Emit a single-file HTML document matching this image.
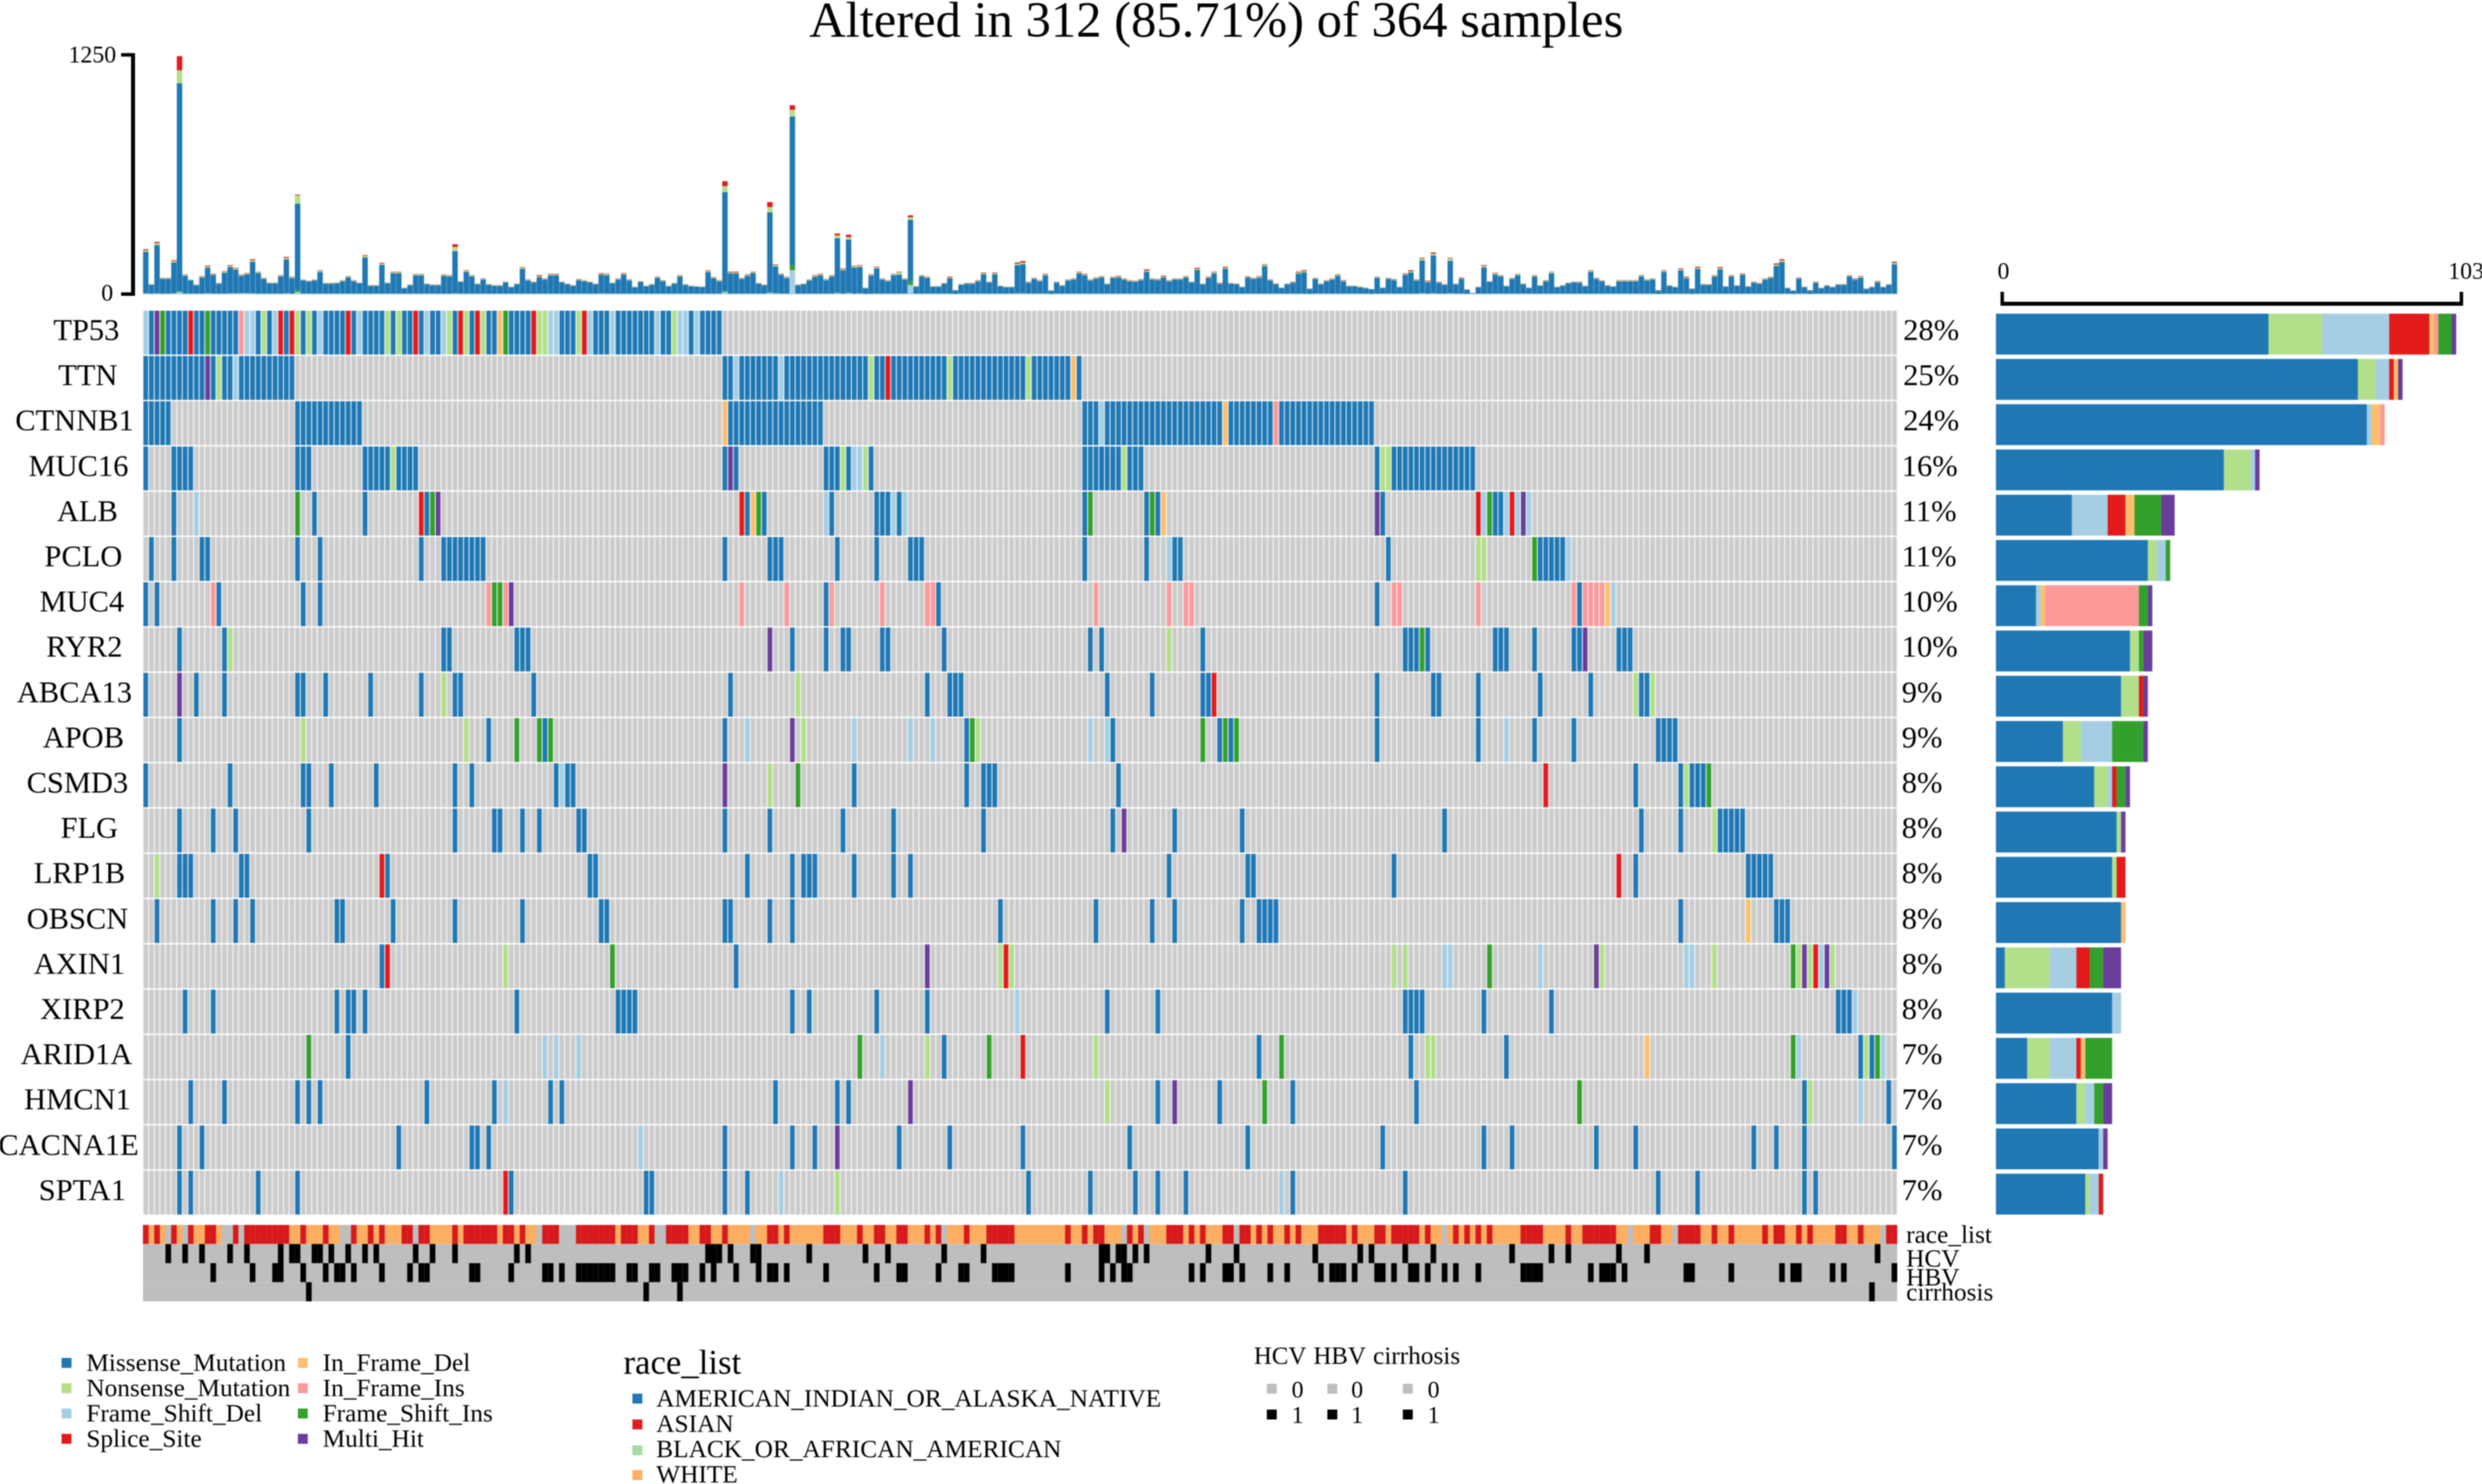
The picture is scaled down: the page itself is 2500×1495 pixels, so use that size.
<!DOCTYPE html>
<html><head><meta charset="utf-8"><title>Oncoplot</title>
<style>
html,body{margin:0;padding:0;background:#fff;}
svg{display:block;filter:blur(0.5px);}
text{font-family:"Liberation Serif",serif;fill:#000;}
.g{font-size:30.7px;text-anchor:middle;}
.p{font-size:30.8px;}
.l{font-size:25.5px;}
.a{font-size:24px;}
.t{font-size:25.5px;}
</style></head>
<body>
<svg id="plot" xmlns="http://www.w3.org/2000/svg" width="2500" height="1495" viewBox="0 0 2500 1495">
<rect x="0" y="0" width="2500" height="1495" fill="#fff"/>
<text x="1225" y="37" font-size="51" text-anchor="middle">Altered in 312 (85.71%) of 364 samples</text>

<g>
<rect x="132" y="53.5" width="4" height="244.5" fill="#000"/>
<rect x="122" y="53.5" width="13" height="3.5" fill="#000"/>
<rect x="122" y="294.5" width="13" height="3.5" fill="#000"/>
<text class="a" x="69" y="63">1250</text>
<text class="a" x="102" y="303">0</text>
</g>
<g id="tmb"></g>
<g id="matrix"></g>
<g id="clin"></g>
<g id="rbars"></g>

<g>
<text class="g" x="87" y="342.5">TP53</text>
<text class="g" x="88.5" y="388.1">TTN</text>
<text class="g" x="75" y="433.7">CTNNB1</text>
<text class="g" x="79" y="479.3">MUC16</text>
<text class="g" x="88" y="524.9">ALB</text>
<text class="g" x="84" y="570.5">PCLO</text>
<text class="g" x="82.5" y="616.1">MUC4</text>
<text class="g" x="85" y="661.7">RYR2</text>
<text class="g" x="75" y="707.3">ABCA13</text>
<text class="g" x="84" y="752.9">APOB</text>
<text class="g" x="78" y="798.5">CSMD3</text>
<text class="g" x="90" y="844.1">FLG</text>
<text class="g" x="80" y="889.7">LRP1B</text>
<text class="g" x="78" y="935.3">OBSCN</text>
<text class="g" x="80" y="980.9">AXIN1</text>
<text class="g" x="83" y="1026.5">XIRP2</text>
<text class="g" x="77" y="1072.1">ARID1A</text>
<text class="g" x="78" y="1117.7">HMCN1</text>
<text class="g" x="69" y="1163.3">CACNA1E</text>
<text class="g" x="83" y="1208.9">SPTA1</text>
</g>

<g>
<text class="p" x="1917" y="342.5">28%</text>
<text class="p" x="1917" y="388.1">25%</text>
<text class="p" x="1917" y="433.7">24%</text>
<text class="p" x="1915.5" y="479.3">16%</text>
<text class="p" x="1915.5" y="524.9">11%</text>
<text class="p" x="1915.5" y="570.5">11%</text>
<text class="p" x="1915.5" y="616.1">10%</text>
<text class="p" x="1915.5" y="661.7">10%</text>
<text class="p" x="1915.5" y="707.3">9%</text>
<text class="p" x="1915.5" y="752.9">9%</text>
<text class="p" x="1915.5" y="798.5">8%</text>
<text class="p" x="1915.5" y="844.1">8%</text>
<text class="p" x="1915.5" y="889.7">8%</text>
<text class="p" x="1915.5" y="935.3">8%</text>
<text class="p" x="1915.5" y="980.9">8%</text>
<text class="p" x="1915.5" y="1026.5">8%</text>
<text class="p" x="1915.5" y="1072.1">7%</text>
<text class="p" x="1915.5" y="1117.7">7%</text>
<text class="p" x="1915.5" y="1163.3">7%</text>
<text class="p" x="1915.5" y="1208.9">7%</text>
</g>

<g>
<rect x="2015" y="304" width="466" height="4" fill="#000"/>
<rect x="2015" y="294" width="3.5" height="14" fill="#000"/>
<rect x="2477.5" y="294" width="3.5" height="14" fill="#000"/>
<text class="a" x="2012" y="281">0</text>
<text class="a" x="2466" y="281">103</text>
</g>

<g>
<text class="t" x="1920" y="1252">race_list</text>
<text class="t" x="1920" y="1276">HCV</text>
<text class="t" x="1920" y="1295">HBV</text>
<text class="t" x="1920" y="1310">cirrhosis</text>
</g>

<g>
<rect x="62" y="1368" width="10" height="10" fill="#1F78B4"/>
<text class="l" x="87" y="1381">Missense_Mutation</text>
<rect x="62" y="1393.5" width="10" height="10" fill="#B2DF8A"/>
<text class="l" x="87" y="1406.5">Nonsense_Mutation</text>
<rect x="62" y="1419" width="10" height="10" fill="#A6CEE3"/>
<text class="l" x="87" y="1432">Frame_Shift_Del</text>
<rect x="62" y="1444.5" width="10" height="10" fill="#E31A1C"/>
<text class="l" x="87" y="1457.5">Splice_Site</text>
<rect x="300" y="1368" width="10" height="10" fill="#FDBF6F"/>
<text class="l" x="325" y="1381">In_Frame_Del</text>
<rect x="300" y="1393.5" width="10" height="10" fill="#FB9A99"/>
<text class="l" x="325" y="1406.5">In_Frame_Ins</text>
<rect x="300" y="1419" width="10" height="10" fill="#33A02C"/>
<text class="l" x="325" y="1432">Frame_Shift_Ins</text>
<rect x="300" y="1444.5" width="10" height="10" fill="#6A3D9A"/>
<text class="l" x="325" y="1457.5">Multi_Hit</text>
</g>

<g>
<text x="628" y="1384" font-size="35">race_list</text>
<rect x="637" y="1404" width="10" height="10" fill="#1F78B4"/>
<text class="l" x="661" y="1417">AMERICAN_INDIAN_OR_ALASKA_NATIVE</text>
<rect x="637" y="1430" width="10" height="10" fill="#E31A1C"/>
<text class="l" x="661" y="1442.5">ASIAN</text>
<rect x="637" y="1456" width="10" height="10" fill="#A6DBA0"/>
<text class="l" x="661" y="1468">BLACK_OR_AFRICAN_AMERICAN</text>
<rect x="637" y="1481" width="10" height="10" fill="#FDAE61"/>
<text class="l" x="661" y="1493.5">WHITE</text>
</g>

<g>
<text x="1263" y="1374" font-size="25">HCV</text>
<text x="1323" y="1374" font-size="25">HBV</text>
<text x="1383" y="1374" font-size="25.5">cirrhosis</text>
<rect x="1276" y="1394" width="10" height="10" fill="#BEBEBE"/>
<rect x="1276" y="1420" width="10" height="10" fill="#000"/>
<rect x="1337" y="1394" width="10" height="10" fill="#BEBEBE"/>
<rect x="1337" y="1420" width="10" height="10" fill="#000"/>
<rect x="1413" y="1394" width="10" height="10" fill="#BEBEBE"/>
<rect x="1413" y="1420" width="10" height="10" fill="#000"/>
<text class="a" x="1301" y="1408">0</text>
<text class="a" x="1301" y="1433.5">1</text>
<text class="a" x="1361" y="1408">0</text>
<text class="a" x="1361" y="1433.5">1</text>
<text class="a" x="1438" y="1408">0</text>
<text class="a" x="1438" y="1433.5">1</text>
</g>
</svg>

<script>
/* ---------- data ---------- */
const genes = ["TP53","TTN","CTNNB1","MUC16","ALB","PCLO","MUC4","RYR2","ABCA13","APOB","CSMD3","FLG","LRP1B","OBSCN","AXIN1","XIRP2","ARID1A","HMCN1","CACNA1E","SPTA1"];
const sampleCount = 312;
const tmbTicks = [0,1250];
const geneBarTicks = [0,103];

/* per-gene mutated sample columns: M missense, N nonsense, L frame-shift del, S splice, D in-frame del, I in-frame ins, G frame-shift ins, H multi-hit */
const mutTP53 = {M:[1,4,5,6,7,9,10,12,13,14,15,16,20,22,25,28,30,32,33,34,35,37,39,40,41,42,44,46,47,49,51,52,55,58,61,62,65,66,67,68,74,75,76,80,81,82,84,85,86,87,88,89,90,92,93,97,99,100,101,102],N:[21,27,29,43,45,54,57,60,70,71,77,94],L:[0,18,19,23,31,38,50,53,72,73,79,83,91,95,96,98],S:[8,24,26,36,48,56,59,69,78],D:[63],I:[17],G:[3,11,64],H:[2]};
const mutTTN = {M:[0,1,2,3,4,5,6,7,8,9,10,12,14,15,17,18,19,20,21,22,23,24,25,26,103,104,106,107,108,109,110,111,112,114,115,116,117,118,119,120,121,122,123,124,125,126,127,128,130,131,133,134,135,136,137,138,139,140,141,142,144,145,146,147,148,149,150,151,152,153,154,155,156,158,159,160,161,162,163,164,166],N:[13,129,143,157],L:[16,105,113],S:[132],D:[165],H:[11]};
const mutCTNNB1 = {M:[0,1,2,3,4,27,28,29,30,31,32,33,34,35,36,37,38,104,105,106,107,108,109,110,111,112,113,114,115,116,117,118,119,120,167,168,169,171,172,173,174,175,176,177,178,179,180,181,182,183,184,185,186,187,188,189,190,191,193,194,195,196,197,198,199,200,202,203,204,205,206,207,208,209,210,211,212,213,214,215,216,217,218],L:[170],D:[103,192],I:[201]};
const mutMUC16 = {M:[0,5,6,7,8,27,28,29,39,40,41,42,43,45,46,47,48,103,105,121,122,123,125,129,167,168,169,170,171,172,173,175,176,177,219,222,223,224,225,226,227,228,229,230,231,232,233,234,235,236],N:[44,124,128,174,220,221],L:[126,127],H:[104]};
const mutALB = {M:[5,30,39,50,107,110,122,130,131,132,134,167,178,180,220,240,241],L:[9,121,133,135,238,242,244,246],S:[49,106,237,243],D:[108,181],G:[27,51,109,168,179,239],H:[52,219,245]};
const mutPCLO = {M:[1,5,10,11,27,31,49,53,54,55,56,57,58,59,60,103,111,112,113,123,130,136,137,138,167,178,183,184,221,248,249,250,251,252],N:[237,238],L:[182,253],G:[247]};
const mutMUC4 = {M:[0,2,13,28,31,121,141,219,255],L:[261],D:[260],I:[12,61,64,106,114,122,131,139,140,169,182,185,186,222,223,237,254,256,257,258,259],G:[62,63],H:[65]};
const mutRYR2 = {M:[6,14,53,54,66,67,68,115,121,124,125,131,132,142,168,170,188,224,225,226,228,240,241,242,247,254,255,262,263,264],N:[15,182],G:[227],H:[111,256]};
const mutABCA13 = {M:[0,9,14,27,28,32,40,49,55,56,69,104,139,143,144,145,171,179,188,189,219,229,230,237,248,257,266,267],N:[53,116,265,268],S:[190],H:[6]};
const mutAPOB = {M:[6,61,71,103,146,172,191,193,219,237,247,254,269,270,271,272],N:[28,57,117,148],L:[107,126,136,140,168,171,242],G:[66,70,72,147,188,192,194],H:[115]};
const mutCSMD3 = {M:[0,15,28,29,33,41,55,58,73,75,76,126,146,149,150,151,173,265,273,275,276,277],N:[111,274],L:[74],S:[249],G:[116,278],H:[103]};
const mutFLG = {M:[6,12,16,29,55,62,63,67,70,77,78,103,111,124,133,149,172,183,195,231,266,273,280,281,282,283,284],N:[279],H:[174]};
const mutLRP1B = {M:[6,7,8,17,18,43,79,80,107,115,117,118,119,126,133,136,182,196,197,222,265,285,286,287,288,289],N:[2],S:[42,262]};
const mutOBSCN = {M:[2,12,16,19,34,35,44,55,67,81,82,103,104,111,115,152,169,179,183,195,198,199,200,201,273,290,291,292],D:[285]};
const mutAXIN1 = {M:[42,105],N:[64,152,154,222,224,259,279,294,296,300],L:[231,232,248,274,275,298],S:[43,153,297],G:[83,239,293],H:[139,258,295,299]};
const mutXIRP2 = {M:[7,12,34,36,37,39,66,84,85,86,87,115,118,130,139,171,180,224,225,226,227,238,250,301,302,303],L:[155,304]};
const mutARID1A = {M:[36,142,198,225,242,305,307],N:[139,169,228,229,306],L:[71,73,77,131,294,309],S:[156],D:[267],G:[29,127,150,202,293,308]};
const mutHMCN1 = {M:[8,14,27,29,31,50,62,72,74,112,123,125,180,191,204,226,295,310],N:[171,296],L:[64,305],G:[199,255],H:[136,183]};
const mutCACNA1E = {M:[6,10,45,58,59,61,103,115,119,134,143,156,175,196,220,238,243,258,265,286,290,295,311],L:[88],H:[123]};
const mutSPTA1 = {M:[6,8,20,27,65,89,90,103,107,157,168,176,180,185,204,224,269,276,295,297],N:[123],L:[113,202],S:[64]};

/* top bar: mutations per sample */
const tmbTotal = [
235,54,273,86,86,178,1242,104,78,52,
95,149,109,60,121,152,138,104,112,183,
118,86,62,62,100,195,92,520,78,71,
78,125,60,60,62,74,95,74,62,204,
48,48,164,62,118,118,35,52,106,106,
57,52,52,104,100,261,69,126,100,57,
83,54,48,48,66,40,57,142,78,66,
100,83,107,107,66,57,48,80,74,66,
57,111,107,62,83,111,78,40,69,45,
54,93,74,45,60,100,54,45,43,41,
125,90,74,590,118,118,86,104,118,60,
52,481,156,109,92,986,52,57,78,100,
107,80,100,317,135,311,149,152,35,105,
144,83,74,107,118,83,412,43,100,92,
43,43,60,92,22,54,60,60,74,114,
66,114,45,40,40,166,173,66,86,74,
107,21,66,48,78,83,118,107,78,88,
95,57,92,97,83,74,71,80,130,83,
80,97,74,83,83,95,66,138,57,92,
118,60,144,60,57,40,95,86,95,157,
78,57,36,57,66,118,126,31,86,57,
74,83,104,74,45,45,40,35,28,92,
36,86,80,40,109,126,78,190,71,218,
66,54,190,57,88,26,8,40,152,69,
112,100,45,86,107,57,36,100,48,74,
118,40,48,62,66,66,45,126,86,73,
48,43,74,74,74,74,100,78,83,22,
126,48,40,135,92,31,144,54,54,100,
142,43,100,48,109,43,66,60,83,92,
161,183,35,21,88,40,22,66,35,48,
40,54,54,100,83,95,31,40,69,40,
54,170];
const tmbNonsense = [
8,3,10,3,3,8,67,5,4,3,
4,6,5,3,6,6,6,5,5,8,
5,4,3,3,5,8,5,43,4,3,
4,6,3,3,3,4,5,4,3,8,
3,3,7,3,5,5,2,3,5,5,
3,3,3,5,5,22,3,6,5,3,
4,3,3,3,3,2,3,6,4,3,
5,4,5,5,3,3,3,4,4,3,
3,5,5,3,4,5,4,2,3,2,
3,5,4,2,3,5,3,2,2,2,
6,4,4,31,5,5,4,5,5,3,
3,28,7,5,5,35,3,3,4,5,
5,4,5,14,6,14,6,7,2,5,
6,4,4,5,12,4,14,2,5,4,
2,2,3,4,1,3,3,3,4,6,
3,6,2,2,2,8,8,3,4,4,
5,1,3,3,4,4,6,5,4,4,
5,3,4,5,4,4,3,4,6,4,
4,5,4,4,4,5,3,6,3,4,
6,3,6,3,3,2,5,4,5,7,
4,3,2,3,3,6,6,2,4,3,
4,4,5,4,2,2,2,2,1,4,
2,4,4,2,5,6,4,9,4,10,
3,3,12,3,4,1,1,2,7,3,
6,5,2,4,5,3,2,5,3,4,
6,2,3,3,3,3,2,6,4,3,
3,2,4,4,4,4,5,4,4,1,
6,3,2,6,4,2,6,3,3,5,
6,2,5,3,5,2,3,3,4,4,
7,8,2,1,4,2,1,3,2,3,
2,3,3,5,4,5,2,2,3,2,
3,7];
const tmbSplice = [
5,1,6,2,2,4,74,2,1,1,
2,4,2,1,2,4,3,2,2,5,
2,2,1,1,2,5,2,4,1,1,
1,3,1,1,1,1,2,2,1,4,
1,1,4,1,3,3,1,1,2,2,
1,1,1,2,2,14,1,3,2,1,
2,1,1,1,1,1,1,3,2,1,
5,2,3,3,1,1,1,2,1,1,
1,3,3,1,2,3,2,1,1,1,
1,2,1,1,1,2,1,1,1,1,
3,2,2,26,4,4,2,3,2,1,
1,26,3,2,2,24,1,1,2,3,
3,2,2,10,3,12,3,3,1,2,
3,2,2,2,3,2,10,1,2,2,
1,1,1,4,1,1,1,2,2,3,
1,3,1,1,1,6,8,2,2,2,
3,1,2,1,2,2,3,3,2,2,
2,1,2,3,2,2,2,2,6,2,
2,4,2,2,2,2,1,5,1,3,
3,3,4,1,1,1,2,2,3,3,
2,2,1,1,2,4,5,1,2,1,
2,2,3,3,1,1,1,1,1,2,
1,2,2,1,3,6,2,4,4,6,
2,1,3,1,3,1,0,1,4,1,
3,2,1,2,2,1,1,2,1,2,
2,1,1,1,1,2,1,3,2,2,
1,1,2,2,2,2,2,2,2,1,
3,1,1,4,4,1,5,2,1,2,
5,1,2,1,3,1,2,2,2,2,
6,6,1,1,2,1,1,2,1,1,
1,1,1,2,3,3,1,1,2,1,
1,6];
const tmbFrameDel = [
4,3,4,3,3,4,12,3,3,3,
3,4,3,3,3,4,4,5,5,4,
3,3,3,3,3,4,3,12,3,3,
3,3,3,3,3,3,3,3,3,3,
3,3,3,3,3,3,3,3,3,3,
3,3,3,3,3,4,3,3,3,3,
3,3,3,3,3,3,3,3,3,3,
3,3,3,3,3,3,3,3,3,3,
3,4,3,3,3,3,3,3,3,3,
3,3,3,3,3,3,3,3,3,3,
3,3,3,12,3,3,3,3,3,3,
3,8,4,3,3,126,3,3,3,3,
3,3,3,6,3,6,3,4,2,3,
3,3,3,3,3,3,48,3,3,3,
3,3,3,3,2,3,3,3,3,3,
3,3,3,3,3,4,4,3,3,3,
3,2,3,3,3,3,3,3,3,3,
3,3,3,3,3,3,3,3,3,3,
3,3,3,3,3,3,3,3,3,3,
3,3,3,3,3,3,3,3,3,3,
3,3,3,3,3,3,3,2,3,3,
3,3,3,3,3,3,3,3,2,3,
3,3,3,3,3,3,3,5,3,5,
3,3,5,3,3,2,3,3,3,3,
3,3,3,3,3,3,3,3,3,3,
3,3,3,3,3,3,3,3,3,3,
3,3,3,3,3,3,3,3,3,2,
3,3,3,3,3,2,3,3,3,3,
3,3,3,3,3,3,3,3,3,3,
3,3,3,2,3,3,2,3,3,3,
3,3,3,3,3,3,3,3,3,3,
3,3];
const tmbFrameIns = [
2,1,2,1,1,2,3,1,1,1,
1,2,1,1,1,2,2,1,1,2,
1,1,1,1,1,2,1,10,1,1,
1,1,1,1,1,1,1,1,1,2,
1,1,2,1,1,1,1,1,1,1,
1,1,1,1,1,2,1,1,1,1,
1,1,1,1,1,1,1,2,1,1,
1,1,1,1,1,1,1,1,1,1,
1,1,1,1,1,1,1,1,1,1,
1,1,1,1,1,1,1,1,1,1,
1,1,1,4,1,1,1,1,1,1,
1,3,2,1,1,26,1,1,1,1,
1,1,1,3,1,3,1,2,1,1,
1,1,1,1,1,1,20,1,1,1,
1,1,1,1,1,1,1,1,1,1,
1,1,1,1,1,2,2,1,1,1,
1,1,1,1,1,1,1,1,1,1,
1,1,1,1,1,1,1,1,2,1,
1,1,1,1,1,1,1,2,1,1,
1,1,2,1,1,1,1,1,1,2,
1,1,1,1,1,1,2,1,1,1,
1,1,1,1,1,1,1,1,1,1,
1,1,1,1,1,2,1,2,1,3,
1,1,3,1,1,1,1,1,2,1,
1,1,1,1,1,1,1,1,1,1,
1,1,1,1,1,1,1,2,1,1,
1,1,1,1,1,1,1,1,1,1,
2,1,1,2,1,1,2,1,1,1,
2,1,1,1,1,1,1,1,1,1,
2,2,1,1,1,1,1,1,1,1,
1,1,1,1,1,1,1,1,1,1,
1,2];

/* right bars: samples per gene, by type */
const barMissense = [61,81,83,51,17,34,9,30,28,15,22,27,26,28,2,26,7,18,23,20];
const barNonsense = [12,4,0,6,0,2,0,2,4,4,3,1,1,0,10,0,5,2,0,1];
const barFrameDel = [15,3,1,1,8,2,1,0,0,7,1,0,0,0,6,2,6,2,1,2];
const barSplice   = [9,1,0,0,4,0,0,0,1,0,1,0,2,0,3,0,1,0,0,1];
const barInDel    = [1,1,2,0,2,0,1,0,0,0,0,0,0,1,0,0,1,0,0,0];
const barInIns    = [1,0,1,0,0,0,21,0,0,0,0,0,0,0,0,0,0,0,0,0];
const barFrameIns = [3,0,0,0,6,1,2,1,0,7,2,0,0,0,3,0,6,2,0,0];
const barMultiHit = [1,1,0,1,3,0,1,2,1,1,1,1,0,0,4,0,0,2,1,0];

/* clinical tracks */
const raceAsian = [0,2,5,8,11,12,16,18,19,20,21,22,23,24,25,28,32,37,40,42,46,47,49,50,55,57,58,59,60,61,62,64,65,67,71,72,73,77,78,79,80,81,82,83,85,86,87,90,93,94,95,96,99,100,103,111,112,114,121,122,123,127,130,131,134,135,139,141,146,150,151,152,153,154,164,167,169,170,175,177,182,183,184,186,188,192,193,195,196,198,200,203,205,209,210,211,212,213,215,219,220,222,223,224,225,226,228,233,235,237,239,245,246,247,248,253,256,257,258,259,260,261,268,269,273,274,275,276,279,282,288,290,291,294,296,301,302,305,310,311];
const raceMissing = [4,7,14,15,17,35,36,48,70,74,75,76,91,92,108,142,174,178,194,231,264,272,309];
const hcvPositive = [4,7,10,15,18,24,26,27,30,31,33,36,39,41,48,51,55,66,68,100,101,102,104,108,109,118,128,132,142,149,170,171,173,174,176,178,189,194,208,216,218,224,229,243,250,253,262,267,308];
const hbvPositive = [12,19,23,24,28,32,34,35,37,42,47,49,50,58,59,65,71,72,74,77,78,79,80,81,82,83,86,87,90,91,94,95,96,99,101,105,109,111,112,114,121,130,134,135,141,145,146,151,152,153,154,164,170,172,174,175,186,188,192,193,195,200,203,209,211,212,213,215,219,220,222,225,226,228,231,233,237,245,246,247,248,257,259,260,261,263,274,275,282,291,293,294,300,302,311];
const cirrhosisPositive = [29,89,95,307];

const matrixRows = [mutTP53,mutTTN,mutCTNNB1,mutMUC16,mutALB,mutPCLO,mutMUC4,mutRYR2,mutABCA13,mutAPOB,mutCSMD3,mutFLG,mutLRP1B,mutOBSCN,mutAXIN1,mutXIRP2,mutARID1A,mutHMCN1,mutCACNA1E,mutSPTA1];
const barSeries = [barMissense,barNonsense,barFrameDel,barSplice,barInDel,barInIns,barFrameIns,barMultiHit];
const clinTracks = [hcvPositive,hbvPositive,cirrhosisPositive];

/* ---------- styles & scales ---------- */
const typeColors = {M:"#1F78B4",N:"#B2DF8A",L:"#A6CEE3",S:"#E31A1C",D:"#FDBF6F",I:"#FB9A99",G:"#33A02C",H:"#6A3D9A"};
const barColors = ["#1F78B4","#B2DF8A","#A6CEE3","#E31A1C","#FDBF6F","#FB9A99","#33A02C","#6A3D9A"];
const colW = (1911-144)/sampleCount;
function xCol(c){return 144+c*colW;}
function yRow(r){return 313+r*45.6;}
function xCount(n){return 2010.4+n*(2474-2010.4)/geneBarTicks[1];}
function yTmb(v){return 296.5-v*(296.5-55)/tmbTicks[1];}
const NS="http://www.w3.org/2000/svg";
function rect(parent,x,y,w,h,fill){
  const r=document.createElementNS(NS,"rect");
  r.setAttribute("x",x.toFixed(2));
  r.setAttribute("y",y.toFixed(2));
  r.setAttribute("width",Math.max(w,0).toFixed(2));
  r.setAttribute("height",Math.max(h,0).toFixed(2));
  r.setAttribute("fill",fill);
  parent.appendChild(r);
  return r;
}

/* top stacked bars */
const tmbG=document.getElementById("tmb");
for(let i=0;i<sampleCount;i++){
  const x=xCol(i)+0.1, w=colW-0.2;
  const fd=tmbFrameDel[i], fi=tmbFrameIns[i], n=tmbNonsense[i], s=tmbSplice[i];
  const m=Math.max(tmbTotal[i]-fd-fi-n-s,0);
  const parts=[[fd,"#A6CEE3","frame-del"],[fi,"#33A02C","frame-ins"],[m,"#1F78B4","missense"],[n,"#B2DF8A","nonsense"],[s,"#E31A1C","splice"]];
  let acc=0;
  for(const p of parts){
    const el=rect(tmbG,x,yTmb(acc+p[0]),w,yTmb(acc)-yTmb(acc+p[0]),p[1]);
    
    
    acc+=p[0];
  }
}

/* mutation matrix */
const mg=document.getElementById("matrix");
const cellH=44.2;
for(let r=0;r<genes.length;r++){
  const lookup={};
  const row=matrixRows[r];
  for(const t in row){ for(const c of row[t]){ lookup[c]=t; } }
  for(let c=0;c<sampleCount;c++){
    const t=lookup[c];
    const el=rect(mg,xCol(c)+0.4,yRow(r),colW-0.85,cellH,t?typeColors[t]:"#CCCCCC");
    
    
  }
}

/* right stacked bars */
const rg=document.getElementById("rbars");
for(let r=0;r<genes.length;r++){
  let acc=0;
  for(let s=0;s<barSeries.length;s++){
    const v=barSeries[s][r];
    if(!v) continue;
    const el=rect(rg,xCount(acc),yRow(r)+3,xCount(acc+v)-xCount(acc),41.2,barColors[s]);
    
    
    acc+=v;
  }
}

/* clinical tracks */
const cg=document.getElementById("clin");
const raceTop=1234, trackH=19.25;
const raceBg=rect(cg,xCol(0),raceTop,colW*sampleCount,trackH,"#FDAE61");


for(const c of raceAsian){
  const el=rect(cg,xCol(c),raceTop,colW,trackH,"#D7191C");
  
  
}
for(const c of raceMissing){
  const el=rect(cg,xCol(c),raceTop,colW,trackH,"#BEBEBE");
  
  
}
for(let t=0;t<clinTracks.length;t++){
  const y=raceTop+trackH*(t+1);
  const bg=rect(cg,xCol(0),y,colW*sampleCount,trackH,"#BEBEBE");
  
  
  for(const c of clinTracks[t]){
    const el=rect(cg,xCol(c),y,colW,trackH,"#000");
    
    
  }
}
</script>
</body></html>
